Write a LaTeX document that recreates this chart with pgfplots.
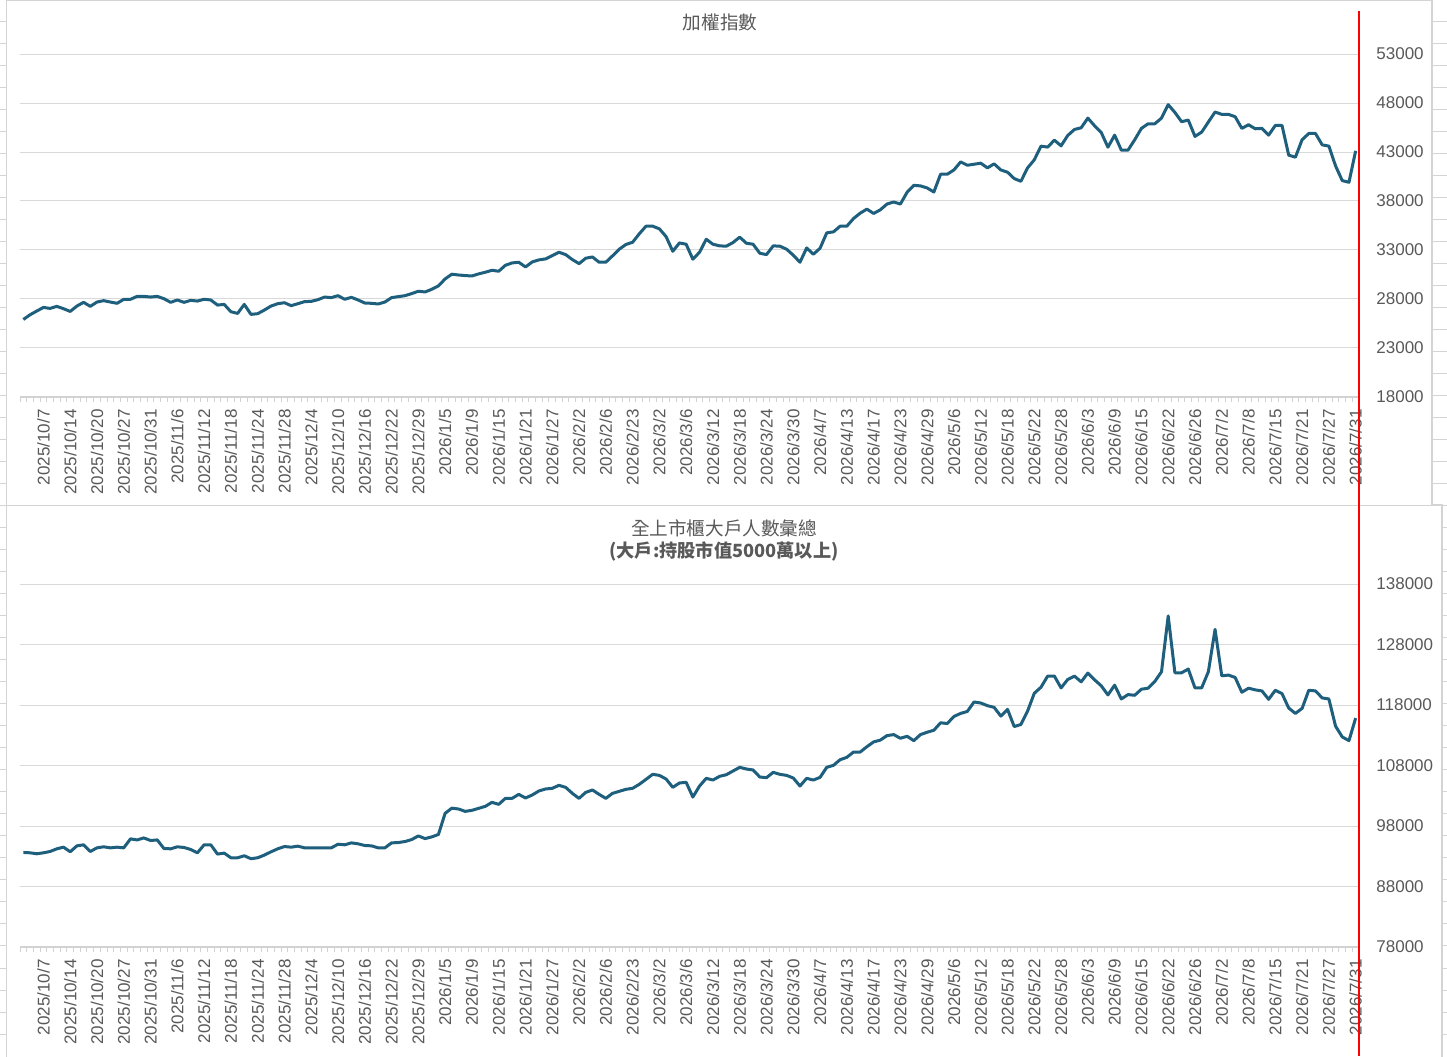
\documentclass[border=0pt]{standalone}
\usepackage{pgfplots}
\pgfplotsset{compat=1.18}
\usepackage{pgfplotstable}
\usepackage{fontspec}
\setmainfont{Liberation Sans}
\newfontfamily\cjk{Noto Sans CJK TC}
\definecolor{linecol}{RGB}{30,95,125}
\definecolor{gridgray}{RGB}{217,217,217}
\definecolor{axgray}{RGB}{210,210,210}
\definecolor{labgray}{RGB}{89,89,89}
\definecolor{cellgray}{RGB}{212,212,212}

\pgfplotstableread{
v
25910
26390
26770
27140
27040
27250
27010
26730
27280
27660
27250
27690
27830
27690
27560
27970
27970
28270
28270
28200
28270
28030
27660
27900
27660
27860
27790
27970
27900
27380
27450
26700
26530
27450
26430
26500
26870
27280
27520
27620
27320
27520
27730
27760
27930
28200
28140
28340
27970
28170
27900
27590
27560
27490
27690
28140
28240
28340
28550
28790
28720
28990
29340
30050
30530
30450
30390
30350
30560
30730
30930
30830
31440
31680
31750
31270
31780
31990
32090
32430
32770
32530
32020
31610
32160
32290
31750
31750
32400
33080
33560
33790
34650
35430
35430
35160
34370
32870
33720
33590
32060
32770
34100
33590
33420
33390
33760
34310
33690
33590
32670
32530
33420
33390
33080
32470
31750
33210
32570
33180
34750
34850
35430
35430
36210
36760
37170
36730
37100
37690
37900
37690
38890
39600
39540
39330
38920
40730
40730
41170
41990
41650
41750
41860
41380
41790
41170
40940
40290
40010
41380
42200
43600
43500
44210
43630
44690
45300
45470
46460
45680
44990
43490
44720
43190
43190
44250
45410
45880
45880
46460
47830
47040
46090
46260
44590
45030
46060
47080
46840
46840
46600
45410
45780
45370
45410
44720
45710
45710
42680
42470
44250
44890
44890
43730
43600
41580
40080
39910
43120
}\taiex

\pgfplotstableread{
v
93630
93570
93410
93570
93790
94230
94500
93740
94720
94890
93790
94390
94560
94390
94500
94390
95870
95700
96030
95600
95700
94280
94230
94560
94450
94120
93570
94890
94890
93360
93520
92750
92750
93080
92590
92750
93190
93740
94230
94610
94500
94670
94390
94390
94390
94390
94390
94990
94890
95210
95050
94780
94720
94390
94390
95210
95270
95430
95760
96360
95920
96200
96600
100100
100950
100810
100420
100590
100920
101250
101910
101580
102570
102570
103230
102630
103120
103790
104120
104230
104720
104390
103400
102570
103560
103950
103230
102570
103400
103730
104060
104230
104890
105710
106540
106370
105770
104390
105110
105220
102790
104610
105880
105600
106210
106480
107090
107700
107420
107260
106100
105990
106870
106540
106370
105930
104610
105880
105600
106040
107700
108030
108960
109350
110230
110230
111110
111900
112200
112940
113110
112500
112830
112110
113110
113500
113830
115060
114940
116110
116610
116940
118500
118330
117890
117610
116170
117280
114440
114780
117000
119940
120940
122780
122780
120830
122220
122780
121830
123280
122170
121170
119670
121280
119000
119720
119610
120610
120780
121890
123500
132720
123330
123330
123940
120830
120830
123500
130500
122830
122940
122560
120110
120780
120500
120330
118940
120440
119890
117500
116610
117440
120440
120330
119170
119000
114500
112720
112110
115830
}\bighold

\pgfplotsset{
  mychart/.style={
    scale only axis, width=669.5pt,
    xmin=-0.5, xmax=199.5,
    scaled y ticks=false, scaled x ticks=false,
    axis x line*=bottom, axis y line*=right,
    y axis line style={draw=none},
    x axis line style={draw=axgray, line width=0.75pt},
    xtick={3,7,...,199},
    xticklabels={2025/10/7,2025/10/14,2025/10/20,2025/10/27,2025/10/31,2025/11/6,2025/11/12,2025/11/18,2025/11/24,2025/11/28,2025/12/4,2025/12/10,2025/12/16,2025/12/22,2025/12/29,2026/1/5,2026/1/9,2026/1/15,2026/1/21,2026/1/27,2026/2/2,2026/2/6,2026/2/23,2026/3/2,2026/3/6,2026/3/12,2026/3/18,2026/3/24,2026/3/30,2026/4/7,2026/4/13,2026/4/17,2026/4/23,2026/4/29,2026/5/6,2026/5/12,2026/5/18,2026/5/22,2026/5/28,2026/6/3,2026/6/9,2026/6/15,2026/6/22,2026/6/26,2026/7/2,2026/7/8,2026/7/15,2026/7/21,2026/7/27,2026/7/31},
    minor xtick={-0.5,0.5,...,199.5},
    major tick length=0pt, minor tick length=2.5pt,
    tick align=outside,
    tick style={draw=axgray, line width=0.5pt},
    xticklabel style={rotate=90, anchor=east, inner sep=0pt, font=\fontsize{8.5pt}{10pt}\selectfont, text=labgray},
    xticklabel shift=6pt,
    yticklabel style={anchor=west, inner sep=0pt, font=\fontsize{8.5pt}{10pt}\selectfont, text=labgray},
    yticklabel shift=8.5pt,
    ymajorgrids, major grid style={draw=gridgray, line width=0.5pt},
  }
}

\begin{document}
\begin{tikzpicture}
\useasboundingbox (0,0) rectangle (723.5pt,528pt);
\fill[white] (0,0) rectangle (723.5pt,528pt);
\foreach \k in {1,...,47} {
  \draw[cellgray, line width=0.5pt] (0,528pt-11pt*\k) -- (4pt,528pt-11pt*\k);
  \draw[cellgray, line width=0.5pt] (715pt,528pt-11pt*\k) -- (723.5pt,528pt-11pt*\k);
}
\draw[cellgray, line width=0.8pt, fill=white] (3.25pt,-1pt) rectangle (721pt,275.5pt);
\draw[cellgray, line width=0.8pt, fill=white] (3.25pt,275.25pt) rectangle (716pt,527.75pt);

\begin{axis}[mychart, at={(10pt,329.5pt)}, anchor=south west, height=171.5pt,
  ymin=18000, ymax=53000,
  ytick={18000,23000,28000,33000,38000,43000,48000,53000},
  yticklabels={18000,23000,28000,33000,38000,43000,48000,53000}]
\addplot[color=linecol, line width=1.5pt, line join=round, mark=none] table[x expr=\coordindex, y=v] {\taiex};
\end{axis}

\begin{axis}[mychart, at={(10pt,54.5pt)}, anchor=south west, height=181.5pt,
  ymin=78000, ymax=138000,
  ytick={78000,88000,98000,108000,118000,128000,138000},
  yticklabels={78000,88000,98000,108000,118000,128000,138000}]
\addplot[color=linecol, line width=1.5pt, line join=round, mark=none] table[x expr=\coordindex, y=v] {\bighold};
\end{axis}

\node[text=labgray, font=\cjk\fontsize{9.3pt}{11pt}\selectfont] at (360pt,517pt) {加權指數};
\node[text=labgray, font=\cjk\fontsize{9.3pt}{11pt}\selectfont] at (362pt,264pt) {全上市櫃大戶人數彙總};
\node[text=labgray, font=\cjk\bfseries\fontsize{9.1pt}{11pt}\selectfont] at (362pt,252.5pt) {(大戶:持股市值5000萬以上)};

\draw[red, line width=1pt] (679.25pt,522.5pt) -- (679.25pt,0pt);
\end{tikzpicture}
\end{document}
